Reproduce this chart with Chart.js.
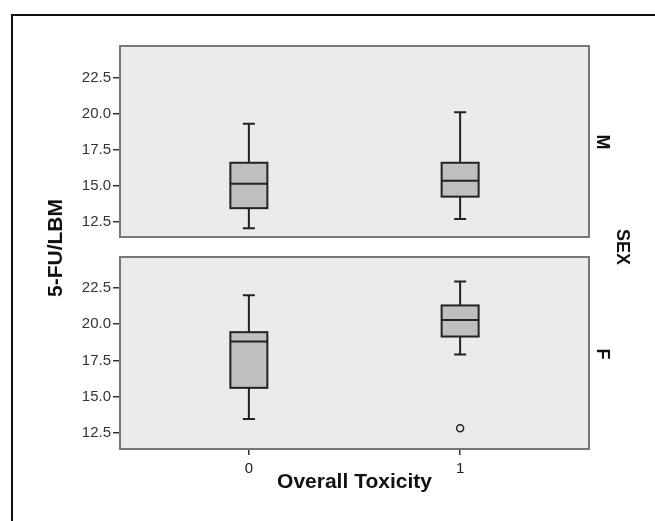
<!DOCTYPE html>
<html>
<head>
<meta charset="utf-8">
<script src="https://cdn.jsdelivr.net/npm/chart.js@4.4.1/dist/chart.umd.min.js"></script>
<style>
  html, body { margin: 0; padding: 0; background: #fff; }
  body { width: 655px; height: 521px; position: relative; overflow: hidden; font-family: "Liberation Sans", Arial, sans-serif; }
  .frame { position: absolute; left: 11px; top: 14px; width: 700px; height: 600px; border-left: 2px solid #111; border-top: 2px solid #111; }
  .panel { position: absolute; left: 30px; }
  .lbl { position: absolute; font-weight: bold; color: #111; white-space: nowrap; transform: translate(-50%, -50%) rotate(90deg); }
</style>
</head>
<body>
<div class="frame"></div>
<div class="panel" style="top:40px"><canvas id="chartM" width="570" height="203"></canvas></div>
<div class="panel" style="top:251px"><canvas id="chartF" width="570" height="250"></canvas></div>
<div class="lbl" style="left:55px;top:248px;font-size:21px;transform:translate(-50%,-50%) rotate(-90deg)">5-FU/LBM</div>
<div class="lbl" style="left:602px;top:142px;font-size:18px">M</div>
<div class="lbl" style="left:602px;top:354px;font-size:18px">F</div>
<div class="lbl" style="left:622px;top:247px;font-size:18px">SEX</div>
<script>
// categories on the x axis (Overall Toxicity)
const categories = [0, 1];
const yTicks = [12.5, 15, 17.5, 20, 22.5];
const xRange = [-0.61, 1.61];

// SEX = M
const maleMin    = [12.05, 12.7];
const maleQ1     = [13.45, 14.25];
const maleMedian = [15.15, 15.35];
const maleQ3     = [16.6, 16.6];
const maleMax    = [19.3, 20.1];
const maleOutliers = [[], []];
const maleYRange = [11.45, 24.7];

// SEX = F
const femaleMin    = [13.45, 17.9];
const femaleQ1     = [15.6, 19.15];
const femaleMedian = [18.8, 20.3];
const femaleQ3     = [19.45, 21.3];
const femaleMax    = [22.0, 22.95];
const femaleOutliers = [[], [12.8]];
const femaleYRange = [11.37, 24.65];

const FONT = '"Liberation Sans", Arial, sans-serif';

// panel background, boxes and whiskers drawn through the chart scales
const boxPlugin = {
    id: 'boxPanel',
    beforeDraw: function (chart) {
        const a = chart.chartArea;
        const ctx = chart.ctx;
        ctx.save();
        ctx.fillStyle = '#ebebeb';
        ctx.fillRect(a.left, a.top, a.right - a.left, a.bottom - a.top);
        ctx.restore();
    },
    beforeDatasetsDraw: function (chart, args, opts) {
        const s = opts.stats;
        if (!s) return;
        const ctx = chart.ctx;
        const xs = chart.scales.x, ys = chart.scales.y;
        const half = 18.5, cap = 6;
        ctx.save();
        ctx.lineWidth = 2;
        ctx.strokeStyle = '#222';
        categories.forEach(function (c, i) {
            const x = xs.getPixelForValue(c);
            const yMin = ys.getPixelForValue(s.min[i]);
            const yQ1 = ys.getPixelForValue(s.q1[i]);
            const yMed = ys.getPixelForValue(s.median[i]);
            const yQ3 = ys.getPixelForValue(s.q3[i]);
            const yMax = ys.getPixelForValue(s.max[i]);
            ctx.beginPath();
            ctx.moveTo(x, yMax); ctx.lineTo(x, yQ3);
            ctx.moveTo(x, yQ1); ctx.lineTo(x, yMin);
            ctx.moveTo(x - cap, yMax); ctx.lineTo(x + cap, yMax);
            ctx.moveTo(x - cap, yMin); ctx.lineTo(x + cap, yMin);
            ctx.stroke();
            ctx.fillStyle = '#bfbfbf';
            ctx.fillRect(x - half, yQ3, half * 2, yQ1 - yQ3);
            ctx.strokeRect(x - half, yQ3, half * 2, yQ1 - yQ3);
            ctx.beginPath();
            ctx.moveTo(x - half, yMed); ctx.lineTo(x + half, yMed);
            ctx.stroke();
        });
        ctx.restore();
    },
    afterDraw: function (chart) {
        const a = chart.chartArea;
        const ctx = chart.ctx;
        ctx.save();
        ctx.strokeStyle = '#777';
        ctx.lineWidth = 2;
        ctx.strokeRect(a.left, a.top, a.right - a.left, a.bottom - a.top);
        ctx.restore();
    }
};

function makePanel(canvasId, stats, outliers, yRange, showX) {
    const points = [];
    categories.forEach(function (c, i) {
        outliers[i].forEach(function (v) { points.push({ x: c, y: v }); });
    });
    return new Chart(document.getElementById(canvasId), {
        type: 'scatter',
        data: {
            datasets: [{
                data: points,
                pointStyle: 'circle',
                pointRadius: 3.5,
                borderWidth: 1.5,
                borderColor: '#222',
                backgroundColor: '#ebebeb'
            }]
        },
        options: {
            responsive: false,
            animation: false,
            layout: { padding: { top: 6, bottom: showX ? 0 : 6, left: 0, right: 11 } },
            plugins: {
                legend: { display: false },
                tooltip: { enabled: false },
                boxPanel: { stats: stats }
            },
            scales: {
                x: {
                    type: 'linear',
                    display: showX,
                    min: xRange[0],
                    max: xRange[1],
                    afterBuildTicks: function (s) { s.ticks = categories.map(function (v) { return { value: v }; }); },
                    afterFit: function (s) {
                        s.height = showX ? 52 : 0;
                        s.paddingLeft = 0; s.paddingRight = 0;
                    },
                    border: { display: false },
                    grid: { drawOnChartArea: false, drawTicks: true, tickLength: 6, color: '#333', lineWidth: 1.5 },
                    ticks: { color: '#222', padding: 5, font: { size: 15, family: FONT }, callback: function (v) { return String(v); } },
                    title: {
                        display: true,
                        text: 'Overall Toxicity',
                        color: '#111',
                        font: { size: 21, weight: 'bold', family: FONT, lineHeight: 1.2 },
                        padding: { top: 0, bottom: 6 }
                    }
                },
                y: {
                    min: yRange[0],
                    max: yRange[1],
                    afterBuildTicks: function (s) { s.ticks = yTicks.map(function (v) { return { value: v }; }); },
                    afterFit: function (s) {
                        s.width = 90;
                        s.paddingTop = 0; s.paddingBottom = 0;
                    },
                    border: { display: false },
                    grid: { drawOnChartArea: false, drawTicks: true, tickLength: 7, color: '#333', lineWidth: 1.5 },
                    ticks: { color: '#333', padding: 2, font: { size: 15, family: FONT }, callback: function (v) { return v.toFixed(1); } }
                }
            }
        },
        plugins: [boxPlugin]
    });
}

makePanel('chartM', { min: maleMin, q1: maleQ1, median: maleMedian, q3: maleQ3, max: maleMax }, maleOutliers, maleYRange, false);
makePanel('chartF', { min: femaleMin, q1: femaleQ1, median: femaleMedian, q3: femaleQ3, max: femaleMax }, femaleOutliers, femaleYRange, true);
</script>
</body>
</html>
